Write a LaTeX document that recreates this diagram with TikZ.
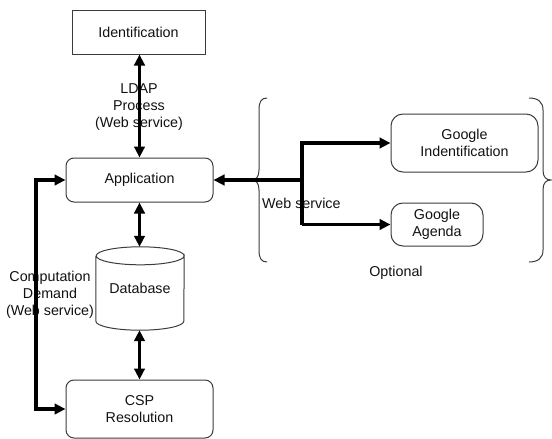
\documentclass[tikz,border=0pt]{standalone}
\usepackage{tikz}
\usepackage{xcolor}
\usepackage{fontspec}
\setmainfont{Liberation Sans}
\usetikzlibrary{arrows.meta,positioning,calc}
\definecolor{edge}{HTML}{3C3C3C}
\definecolor{text}{HTML}{111111}
\tikzset{
  box/.style={draw=edge, line width=1pt, align=center, inner sep=0pt,
              text=text, font=\fontsize{14.3}{17}\selectfont},
  rbox/.style={box, rounded corners=8pt},
  gbox/.style={box, rounded corners=12pt},
  label/.style={align=center, inner sep=0pt, text=text,
                font=\fontsize{14.3}{17}\selectfont},
  link/.style={-{Triangle[length=11pt,width=10.5pt]}, line width=3.2pt, draw=black},
  duplex/.style={{Triangle[length=11pt,width=10.5pt]}-{Triangle[length=11pt,width=10.5pt]},
                 line width=3.2pt, draw=black},
  brace/.style={draw=edge, line width=1pt}
}
\begin{document}
\begin{tikzpicture}[x=1pt,y=-1pt]
  \useasboundingbox (0,0) rectangle (552,439);
  % main column
  \node[box, minimum width=133pt, minimum height=44pt] (id) at (138.5,32) {Identification};
  \node[rbox, minimum width=147pt, minimum height=44pt] (app) at (139.5,180) {Application};
  \node[minimum width=88pt, minimum height=83pt, inner sep=0pt, label] (db) at (140,288.5) {Database};
  \node[rbox, minimum width=147pt, minimum height=58pt] (csp) at (139.5,409) {CSP\\Resolution};
  % database cylinder
  \draw[draw=edge, line width=1pt]
    ($(db.north west)+(0,9)$) -- ($(db.south west)+(0,-9)$)
    arc[start angle=180, end angle=360, x radius=44pt, y radius=9pt]
    -- ($(db.north east)+(0,9)$)
    arc[start angle=0, end angle=-180, x radius=44pt, y radius=9pt]
    arc[start angle=180, end angle=540, x radius=44pt, y radius=9pt];
  % optional services
  \node[gbox, minimum width=147pt, minimum height=58pt] (gid) at (464.5,143) {Google\\Indentification};
  \node[gbox, minimum width=92pt, minimum height=43pt] (gag) at (437,224.5) {Google\\Agenda};
  \coordinate (jn) at (302,180);
  \coordinate (lft) at (36,0);
  % labels
  \node[label] (ldap) at (139,107) {LDAP\\Process\\(Web service)};
  \node[label] (comp) at (50,295) {Computation\\Demand\\(Web service)};
  \node[label, anchor=west] (web) at (262,203) {Web service};
  \node[label] (opt) at (396,273) {Optional};
  % braces
  \draw[brace] (267,98) .. controls (261,98) and (259,102) .. (259,110) -- (259,170)
    .. controls (259,177) and (256,180) .. (251,180)
    .. controls (256,180) and (259,183) .. (259,190) -- (259,250)
    .. controls (259,258) and (261,262) .. (267,262);
  \draw[brace] (529,98) .. controls (538,98) and (543,102) .. (543,110) -- (543,170)
    .. controls (543,177) and (546,180) .. (551,180)
    .. controls (546,180) and (543,183) .. (543,190) -- (543,250)
    .. controls (543,258) and (538,262) .. (529,262);
  % connectors
  \draw[duplex] (id.south -| app.north) -- (app.north);
  \draw[duplex] (app.south) -- (app.south |- db.north);
  \draw[duplex] (app.south |- db.south) -- (csp.north);
  \draw[duplex] (app.west) -- (app.west -| lft) -- (csp.west -| lft) -- (csp.west);
  \draw[link] (jn) -- (app.east);
  \draw[link] (gag.west -| jn) -- (gid.west -| jn) -- (gid.west);
  \draw[link] (gag.west -| jn) -- (gag.west);
\end{tikzpicture}
\end{document}
